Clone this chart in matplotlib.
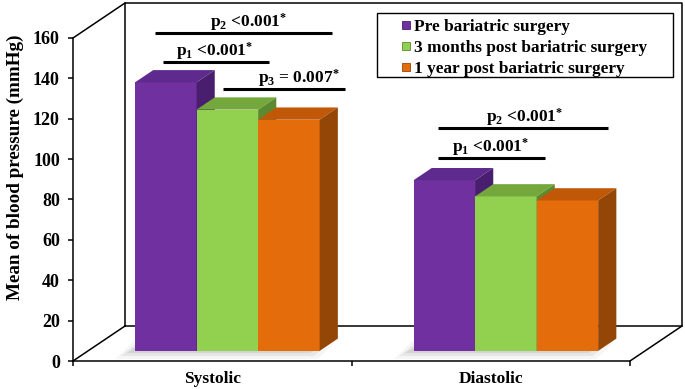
import numpy as np
import matplotlib.pyplot as plt
from matplotlib.patches import Polygon, Rectangle

plt.rcParams['font.family'] = 'Liberation Serif'
plt.rcParams['font.weight'] = 'bold'
plt.rcParams['mathtext.fontset'] = 'custom'
plt.rcParams['mathtext.rm'] = 'Liberation Serif:bold'
plt.rcParams['mathtext.bf'] = 'Liberation Serif:bold'
plt.rcParams['mathtext.it'] = 'Liberation Serif:bold'
plt.rcParams['mathtext.default'] = 'rm'

# data
categories = ['Systolic', 'Diastolic']
series = ['Pre bariatric surgery', '3 months post bariatric surgery',
          '1 year post bariatric surgery']
pre = [133.0, 84.5]
post_3m = [119.5, 76.5]
post_1y = [114.5, 74.5]
values = [pre, post_3m, post_1y]

yticks = [0, 20, 40, 60, 80, 100, 120, 140, 160]

# p-value brackets: (x start, x end, y, text x, label)
brackets = [
    (0.294, 0.930, 162.5, 0.63, r'p$_2$ <0.001$^{*}$'),
    (0.323, 0.704, 148.1, 0.51, r'p$_1$ <0.001$^{*}$'),
    (0.539, 0.977, 134.7, 0.81, r'p$_3$ = 0.007$^{*}$'),
    (1.311, 1.921, 115.4, 1.62, r'p$_2$ <0.001$^{*}$'),
    (1.311, 1.695, 100.5, 1.50, r'p$_1$ <0.001$^{*}$'),
]

front = ['#7030A0', '#92D050', '#E46C0A']
top = ['#5E2A8E', '#74A83C', '#C05808']
side = ['#4A1E6E', '#5C8A30', '#934606']

W, H = 685, 389
fig = plt.figure(figsize=(W / 100, H / 100), dpi=100)

# front plane of the 3D box (pixels)
x0, x1, y0, y1 = 73, 630, 361, 38
ax = fig.add_axes([x0 / W, 1 - y0 / H, (x1 - x0) / W, (y0 - y1) / H])
ax.set_xlim(0, 2)
ax.set_ylim(0, 160)

# box depth in data units
DX = 52 * 2 / (x1 - x0)
DY = 35 * 160 / (y0 - y1)

# back wall and side edges
k = dict(color='black', lw=1.1, clip_on=False, zorder=1)
ax.plot([DX, 2 + DX, 2 + DX, DX, DX], [DY, DY, 160 + DY, 160 + DY, DY], **k)
for xe, ye in [(0, 0), (0, 160), (2, 0)]:
    ax.plot([xe, xe + DX], [ye, ye + DY], **k)

# bars
bw = 0.221
f0, bd = 0.29, 0.35
ddx, ddy = bd * DX, bd * DY
for g in range(len(categories)):
    gl = g + 0.5 - 1.5 * bw + f0 * DX
    yb = f0 * DY
    # soft shadow on the floor, mostly to the left
    for j, a in enumerate([0.04, 0.06, 0.08]):
        sx0 = gl - 0.07 + j * 0.02
        sx1 = gl + 3 * bw + ddx * (0.9 - 0.2 * j)
        sy0, sy1 = yb - 4 + j * 1.5, yb + ddy * 0.8
        ax.add_patch(Polygon([(sx0, sy0), (sx1 - ddx, sy0), (sx1, sy1), (sx0 + ddx, sy1)],
                             fc='black', alpha=a, ec='none', zorder=2, clip_on=False))
    for i, vals in enumerate(values):
        v = vals[g]
        xl = gl + i * bw
        ax.bar(xl, v, width=bw, bottom=yb, align='edge', color=front[i],
               zorder=3 + i, clip_on=False)
        ax.add_patch(Polygon([(xl, yb + v), (xl + bw, yb + v),
                              (xl + bw + ddx, yb + v + ddy), (xl + ddx, yb + v + ddy)],
                             fc=top[i], ec='none', zorder=3 + i, clip_on=False))
        ax.add_patch(Polygon([(xl + bw, yb), (xl + bw + ddx, yb + ddy),
                              (xl + bw + ddx, yb + v + ddy), (xl + bw, yb + v)],
                             fc=side[i], ec='none', zorder=3 + i, clip_on=False))

# axes styling
for s in ['top', 'right']:
    ax.spines[s].set_visible(False)
for s in ['left', 'bottom']:
    ax.spines[s].set_linewidth(1.1)
ax.set_yticks(yticks)
ax.tick_params(axis='y', direction='out', length=3.5, width=1.1, pad=6, labelsize=13)
ax.set_xticks([0, 1, 2])
ax.set_xticklabels([])
ax.tick_params(axis='x', which='major', direction='out', length=3.5, width=1.1)
ax.set_xticks([0.5, 1.5], minor=True)
ax.set_xticklabels(categories, minor=True)
ax.tick_params(axis='x', which='minor', length=0, pad=7, labelsize=12.5)

fig.text(15 / W, 1 - 167 / H, 'Mean of blood pressure (mmHg)', rotation=90,
         ha='center', va='center', fontsize=13.8)

# p-value brackets
for xa, xb, yl, xt, lab in brackets:
    ax.plot([xa, xb], [yl, yl], color='black', lw=2.2, solid_capstyle='butt',
            clip_on=False, zorder=10)
    ax.text(xt, yl + 3, lab, ha='center', va='baseline', fontsize=12.5, zorder=10)

# legend box (drawn by hand, pixel layout)
fig.patches.append(Rectangle((377 / W, 1 - 77 / H), 296 / W, 64 / H, fill=False,
                             ec='black', lw=1.0, transform=fig.transFigure))
for i, name in enumerate(series):
    yc = 25 + i * 21
    fig.patches.append(Rectangle((402 / W, 1 - (yc + 4) / H), 8 / W, 8 / H,
                                 fc=front[i], ec=side[i], lw=0.6,
                                 transform=fig.transFigure))
    fig.text(414 / W, 1 - yc / H, name, ha='left', va='center_baseline', fontsize=12.4)

fig.savefig('out.png', dpi=100)
